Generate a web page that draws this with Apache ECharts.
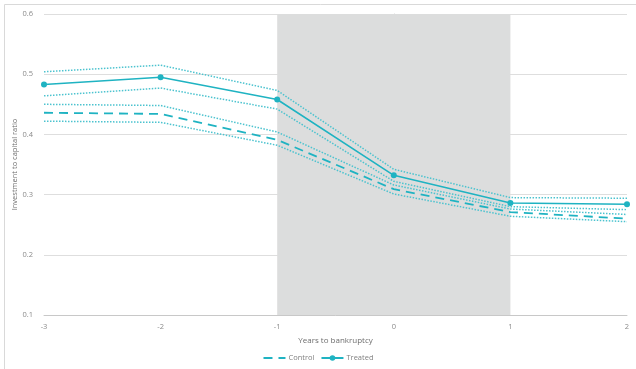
<!DOCTYPE html>
<html>
<head>
<meta charset="utf-8">
<script src="https://cdn.jsdelivr.net/npm/echarts@6/dist/echarts.min.js"></script>
<style>
  html, body { margin: 0; padding: 0; background: #fff; }
  #chart { width: 636px; height: 369px; }
</style>
</head>
<body>
<div id="chart"></div>
<script>
// years relative to bankruptcy
const years = [-3, -2, -1, 0, 1, 2]

const treated      = [0.483, 0.495, 0.458, 0.332, 0.286, 0.284]
const treatedUpper = [0.504, 0.515, 0.473, 0.342, 0.295, 0.294]
const treatedLower = [0.464, 0.477, 0.442, 0.322, 0.280, 0.275]

const control      = [0.436, 0.434, 0.391, 0.309, 0.271, 0.260]
const controlUpper = [0.450, 0.448, 0.404, 0.316, 0.276, 0.267]
const controlLower = [0.422, 0.420, 0.382, 0.301, 0.264, 0.255]

// shaded window
const shadeFrom = -1
const shadeTo = 1

const teal = '#1fb3c2'
const tealLight = '#4cc3cf'

const pairs = arr => years.map((x, i) => [x, arr[i]])

const ciLine = (data) => ({
  type: 'line',
  data: pairs(data),
  symbol: 'none',
  silent: true,
  z: 3,
  lineStyle: { color: tealLight, width: 1.5, type: [1.5, 1.5] }
})

const chart = echarts.init(document.getElementById('chart'))
chart.setOption({
  animation: false,
  textStyle: { fontFamily: 'Open Sans, Lato, sans-serif' },
  graphic: [{
    type: 'rect',
    shape: { x: 4.5, y: 4.5, width: 660, height: 400 },
    style: { fill: 'none', stroke: '#d9d9d9', lineWidth: 1 },
    silent: true
  }],
  grid: { left: 44, right: 9, top: 14, bottom: 54, outerBoundsMode: 'none', containLabel: false },
  legend: {
    data: [
      { name: 'Control', itemStyle: { opacity: 0 } },
      { name: 'Treated' }
    ],
    bottom: 2,
    left: 'center',
    itemWidth: 22,
    itemHeight: 7,
    itemGap: 6,
    textStyle: { color: '#808080', fontSize: 7.5, padding: [0, 0, 0, -2] }
  },
  xAxis: {
    type: 'value',
    min: -3,
    max: 2,
    interval: 1,
    name: 'Years to bankruptcy',
    nameLocation: 'middle',
    nameGap: 22,
    nameMoveOverlap: false,
    nameTextStyle: { color: '#6e6e6e', fontSize: 8 },
    axisLine: { lineStyle: { color: '#c8c8c8' } },
    axisTick: { show: false },
    splitLine: { show: false },
    axisLabel: { color: '#8a8a8a', fontSize: 7.5, margin: 8 }
  },
  yAxis: {
    type: 'value',
    min: 0.1,
    max: 0.6,
    interval: 0.1,
    name: 'Investment to capital ratio',
    nameLocation: 'middle',
    nameGap: 25,
    nameMoveOverlap: false,
    nameTextStyle: { color: '#6e6e6e', fontSize: 7.5 },
    axisLine: { show: true, lineStyle: { color: '#d0d0d0' } },
    axisTick: { show: false },
    splitLine: { lineStyle: { color: '#dedede' } },
    axisLabel: { color: '#8a8a8a', fontSize: 7.5, margin: 11, formatter: v => v.toFixed(1) }
  },
  series: [
    {
      name: 'Control',
      type: 'line',
      data: pairs(control),
      symbol: 'none',
      z: 4,
      itemStyle: { color: teal },
      lineStyle: { color: teal, width: 1.8, type: [9, 6] },
      markArea: {
        silent: true,
        itemStyle: { color: '#dcdddd' },
        data: [[{ xAxis: shadeFrom }, { xAxis: shadeTo }]]
      }
    },
    {
      name: 'Treated',
      type: 'line',
      data: pairs(treated),
      symbol: 'circle',
      symbolSize: 6,
      z: 5,
      itemStyle: { color: teal },
      lineStyle: { color: teal, width: 1.6 }
    },
    ciLine(treatedUpper),
    ciLine(treatedLower),
    ciLine(controlUpper),
    ciLine(controlLower)
  ]
})
</script>
</body>
</html>
